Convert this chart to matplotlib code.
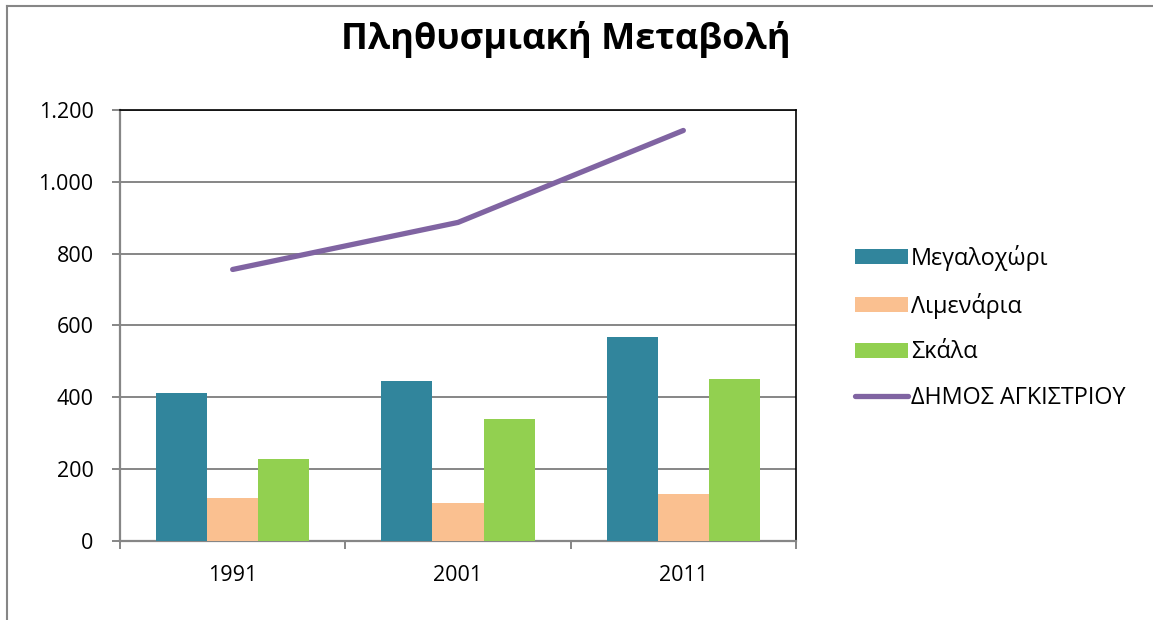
import matplotlib
matplotlib.use("Agg")
import matplotlib.pyplot as plt
from matplotlib.lines import Line2D
from matplotlib.patches import Patch
from matplotlib.ticker import FuncFormatter
import numpy as np

plt.rcParams['font.family'] = ['Open Sans', 'DejaVu Sans']

years = ["1991", "2001", "2011"]
megalochori = [411, 445, 567]
limenaria = [119, 105, 130]
skala = [228, 339, 450]
dimos = [756, 887, 1143]
series_names = ["Μεγαλοχώρι", "Λιμενάρια", "Σκάλα", "ΔΗΜΟΣ ΑΓΚΙΣΤΡΙΟΥ"]
title = "Πληθυσμιακή Μεταβολή"

colors = ["#31859C", "#FAC090", "#92D050", "#8064A2"]
grid_col = "#868686"

W, H = 1153, 620
fig = plt.figure(figsize=(W / 100, H / 100), dpi=100)
ax = fig.add_axes([120 / W, 1 - 541 / H, (796 - 120) / W, (541 - 110) / H])

x = np.arange(len(years))
bw = 0.227
for i, (vals, c) in enumerate(zip([megalochori, limenaria, skala], colors[:3])):
    ax.bar(x + (i - 1) * bw, vals, width=bw, color=c, zorder=3, linewidth=0)
ax.plot(x, dimos, color=colors[3], lw=3.8, solid_capstyle='round', zorder=4)

ax.set_xlim(-0.5, 2.5)
ax.set_ylim(0, 1200)
ax.set_yticks(np.arange(0, 1201, 200))
ax.yaxis.set_major_formatter(FuncFormatter(lambda v, p: f"{int(v):,}".replace(",", ".")))
ax.grid(axis='y', color=grid_col, lw=1.4, zorder=1)
ax.set_axisbelow(True)

ax.set_xticks([-0.5, 0.5, 1.5, 2.5])
ax.set_xticklabels([])
ax.set_xticks(x, minor=True)
ax.set_xticklabels(years, minor=True)
ax.tick_params(axis='x', which='major', length=6, width=1.4, color=grid_col, direction='out')
ax.tick_params(axis='x', which='minor', length=0, pad=17, labelsize=15.5)
ax.tick_params(axis='y', length=6, width=1.4, color=grid_col, direction='out', pad=13, labelsize=15.5)

for s in ['left', 'bottom']:
    ax.spines[s].set_color(grid_col)
    ax.spines[s].set_linewidth(1.6)
for s in ['top', 'right']:
    ax.spines[s].set_color('black')
    ax.spines[s].set_linewidth(1.2)

fig.text(566 / W, 1 - 40 / H, title, ha='center', va='center', fontsize=26, fontweight='bold')

handles = [Patch(facecolor=c, edgecolor='none') for c in colors[:3]] + \
          [Line2D([0], [0], color=colors[3], lw=3.8, solid_capstyle='round')]
leg = fig.legend(handles, series_names, loc='upper left', bbox_to_anchor=(855 / W, 1 - 245 / H),
                 frameon=False, fontsize=16.8, handlelength=2.25, handleheight=0.62,
                 handletextpad=0.15, labelspacing=0.93, borderaxespad=0, borderpad=0)

# outer chart frame (left and top edges visible)
fig.add_artist(Line2D([7 / W, 7 / W], [0, 1 - 6 / H], color=grid_col, lw=1.5))
fig.add_artist(Line2D([7 / W, 1], [1 - 6 / H, 1 - 6 / H], color=grid_col, lw=1.5))

fig.savefig("out.png", dpi=100)
